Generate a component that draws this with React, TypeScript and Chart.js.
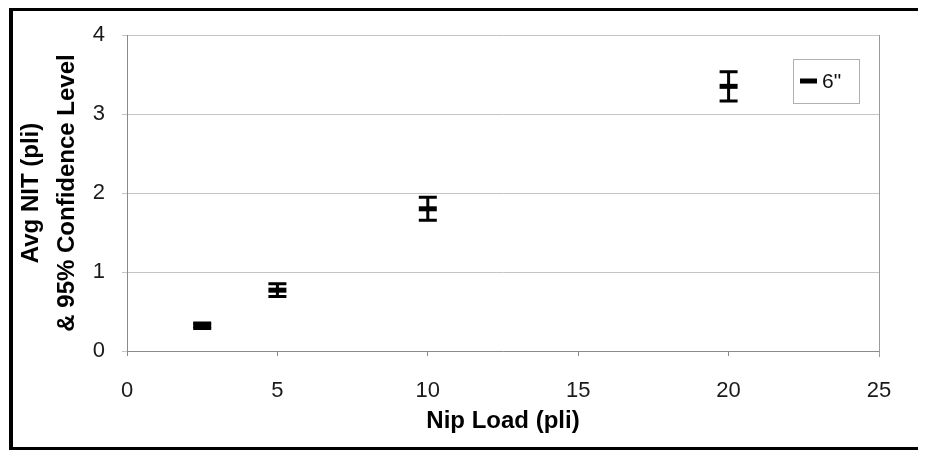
import React, { useEffect, useRef } from "react";
import { Chart, registerables } from "chart.js";

Chart.register(...registerables);

const nipLoad = [2.5, 5, 10, 20];
const avgNIT = [0.32, 0.77, 1.8, 3.35];
const ci95 = [0.035, 0.08, 0.145, 0.185];
const seriesLabel = '6"';
const xTitle = "Nip Load (pli)";
const yTitle = ["Avg NIT (pli)", "& 95% Confidence Level"];
const xMin = 0, xMax = 25, xStep = 5;
const yMin = 0, yMax = 4, yStep = 1;

const FONT = "'Liberation Sans', Arial, sans-serif";

const errorBarPlugin = {
  id: "errorBars",
  afterDatasetsDraw(chart: any) {
    const { ctx, scales } = chart;
    const xs = scales.x, ys = scales.y;
    ctx.save();
    ctx.strokeStyle = "#000";
    ctx.lineWidth = 3;
    ctx.lineCap = "butt";
    nipLoad.forEach((xv, i) => {
      const px = xs.getPixelForValue(xv);
      const top = ys.getPixelForValue(avgNIT[i] + ci95[i]);
      const bot = ys.getPixelForValue(avgNIT[i] - ci95[i]);
      ctx.beginPath();
      ctx.moveTo(px, top);
      ctx.lineTo(px, bot);
      ctx.moveTo(px - 9, top);
      ctx.lineTo(px + 9, top);
      ctx.moveTo(px - 9, bot);
      ctx.lineTo(px + 9, bot);
      ctx.stroke();
    });
    ctx.restore();
  },
};

const frameAndLegendPlugin = {
  id: "frameLegend",
  afterDraw(chart: any) {
    const { ctx, chartArea } = chart;
    ctx.save();
    ctx.strokeStyle = "#9a9a9a";
    ctx.lineWidth = 1;
    ctx.beginPath();
    ctx.moveTo(Math.round(chartArea.right) + 0.5, chartArea.top);
    ctx.lineTo(Math.round(chartArea.right) + 0.5, chartArea.bottom + 6);
    ctx.stroke();
    const bx = chartArea.right - 86;
    const by = chartArea.top + 24;
    const bw = 66;
    const bh = 44;
    ctx.strokeStyle = "#b0b0b0";
    ctx.strokeRect(Math.round(bx) + 0.5, Math.round(by) + 0.5, bw, bh);
    const cy = by + bh / 2;
    ctx.strokeStyle = "#000";
    ctx.lineWidth = 5;
    ctx.beginPath();
    ctx.moveTo(bx + 7, cy);
    ctx.lineTo(bx + 24, cy);
    ctx.stroke();
    ctx.fillStyle = "#111";
    ctx.font = `21px ${FONT}`;
    ctx.textBaseline = "middle";
    ctx.textAlign = "left";
    ctx.fillText(chart.data.datasets[0].label, bx + 29, cy + 1);
    ctx.restore();
  },
};

export default function App() {
  const ref = useRef<HTMLCanvasElement | null>(null);

  useEffect(() => {
    if (!ref.current) return;
    const chart = new Chart(ref.current, {
      type: "scatter",
      data: {
        datasets: [
          {
            label: seriesLabel,
            data: nipLoad.map((x, i) => ({ x, y: avgNIT[i] })),
            showLine: false,
            pointStyle: "line",
            pointRadius: 9,
            pointHoverRadius: 9,
            pointBorderWidth: 5,
            borderColor: "#000",
            backgroundColor: "#000",
          },
        ],
      },
      options: {
        animation: false,
        responsive: false,
        devicePixelRatio: 1,
        layout: { padding: { top: 24, right: 39, left: 0, bottom: 0 } },
        plugins: {
          legend: { display: false },
          tooltip: { enabled: false },
        },
        scales: {
          x: {
            type: "linear",
            min: xMin,
            max: xMax,
            afterFit: (s: any) => {
              s.height = 96;
              s.paddingLeft = 0;
              s.paddingRight = 0;
              s.paddingTop = 0;
              s.paddingBottom = 0;
            },
            ticks: {
              stepSize: xStep,
              padding: 22,
              color: "#1a1a1a",
              font: { family: FONT, size: 22 },
            },
            grid: {
              drawOnChartArea: false,
              drawTicks: true,
              tickLength: 5,
              color: "#8a8a8a",
            },
            border: { display: true, color: "#8a8a8a", width: 1 },
            title: {
              display: true,
              text: xTitle,
              color: "#000",
              font: { family: FONT, size: 24, weight: "bold" },
              padding: { top: 0, bottom: 11 },
            },
          },
          y: {
            type: "linear",
            min: yMin,
            max: yMax,
            afterFit: (s: any) => {
              s.width = 114;
              s.paddingTop = 0;
              s.paddingBottom = 0;
              s.paddingLeft = 0;
              s.paddingRight = 0;
            },
            ticks: {
              stepSize: yStep,
              padding: 17,
              color: "#1a1a1a",
              font: { family: FONT, size: 22 },
            },
            grid: {
              drawOnChartArea: true,
              drawTicks: true,
              tickLength: 5,
              color: "#c4c4c4",
            },
            border: { display: true, color: "#8a8a8a", width: 1 },
            title: {
              display: true,
              text: yTitle,
              color: "#000",
              font: { family: FONT, size: 24, weight: "bold", lineHeight: 1.5 },
              padding: { top: 0, bottom: 0 },
            },
          },
        },
      },
      plugins: [errorBarPlugin, frameAndLegendPlugin],
    });
    return () => chart.destroy();
  }, []);

  return (
    <div
      style={{
        marginLeft: 1,
        borderLeft: "4px solid #000",
        borderTop: "3px solid #000",
        borderBottom: "3px solid #000",
        width: 905,
        height: 436,
        background: "#fff",
      }}
    >
      <canvas ref={ref} width={905} height={436} style={{ display: "block" }} />
    </div>
  );
}
